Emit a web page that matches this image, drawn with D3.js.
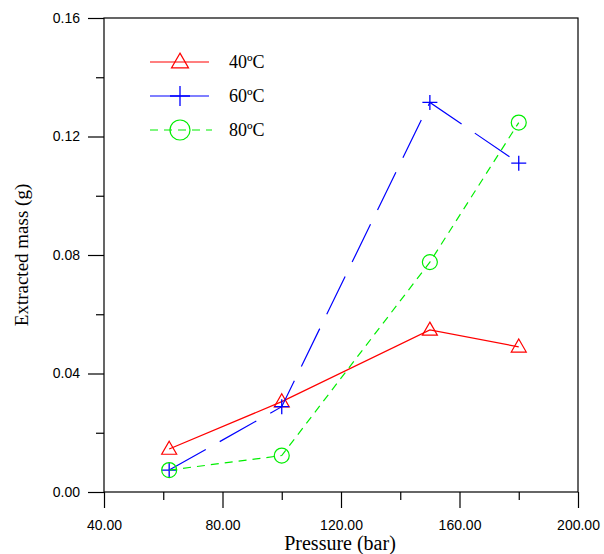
<!DOCTYPE html>
<html><head><meta charset="utf-8">
<script src="https://cdn.jsdelivr.net/npm/d3@7"></script>
<style>body{margin:0;background:#fff}</style>
</head><body>
<svg id="c" width="604" height="554"></svg>
<script>
const pressure = [62, 100, 150, 180];
const mass40 = [0.0145, 0.0305, 0.0547, 0.049];
const mass60 = [0.0074, 0.0288, 0.1315, 0.111];
const mass80 = [0.0074, 0.0123, 0.0776, 0.1247];
const seriesNames = ["40ºC", "60ºC", "80ºC"];
const xTicks = [40, 80, 120, 160, 200];
const yTicks = [0, 0.04, 0.08, 0.12, 0.16];

const svg = d3.select("#c");
const L = 104, R = 578, T = 18, B = 492;
const x = d3.scaleLinear().domain([40, 200]).range([L, R]);
const y = d3.scaleLinear().domain([0, 0.16]).range([B, T]);

// frame
svg.append("rect").attr("x", L).attr("y", T).attr("width", R - L).attr("height", B - T)
  .attr("fill", "none").attr("stroke", "#000").attr("stroke-width", 1.2);

// x axis
const xAx = svg.append("g").attr("transform", `translate(0,${B})`)
  .call(d3.axisBottom(x).tickValues(xTicks).tickSize(16).tickFormat(d3.format(".2f")));
xAx.select(".domain").remove();
xAx.selectAll("text").attr("font-family", "Liberation Sans, Arial, sans-serif").attr("font-size", 14)
  .attr("y", 38).attr("dy", null).attr("fill", "#000");
svg.append("g").attr("transform", `translate(0,${B})`)
  .call(d3.axisBottom(x).tickValues(d3.range(60, 200, 40)).tickSize(8).tickFormat(""))
  .select(".domain").remove();

// y axis
const yAx = svg.append("g").attr("transform", `translate(${L},0)`)
  .call(d3.axisLeft(y).tickValues(yTicks).tickSize(16).tickFormat(d3.format(".2f")));
yAx.select(".domain").remove();
yAx.selectAll("text").attr("font-family", "Liberation Sans, Arial, sans-serif").attr("font-size", 14).attr("x", -24).attr("fill", "#000");
svg.append("g").attr("transform", `translate(${L},0)`)
  .call(d3.axisLeft(y).tickValues(d3.range(0.02, 0.16, 0.04)).tickSize(8).tickFormat(""))
  .select(".domain").remove();
svg.selectAll(".tick line").attr("stroke", "#000").attr("stroke-width", 1.2);

// axis titles
svg.append("text").attr("x", 340).attr("y", 550).attr("text-anchor", "middle")
  .attr("font-family", "Liberation Serif, Times New Roman, serif").attr("font-size", 20).text("Pressure (bar)");
svg.append("text").attr("transform", `translate(28,${(T + B) / 2}) rotate(-90)`).attr("text-anchor", "middle")
  .attr("font-family", "Liberation Serif, Times New Roman, serif").attr("font-size", 19).text("Extracted mass (g)");

const series = [
  {name: seriesNames[0], vals: mass40, color: "#ff0000", dash: null, sym: "tri"},
  {name: seriesNames[1], vals: mass60, color: "#0000ff", dash: "42,16", sym: "plus"},
  {name: seriesNames[2], vals: mass80, color: "#00ee00", dash: "8,6", sym: "circ"}
];

function drawSym(g, sym, cx, cy, s, color) {
  if (sym === "tri") {
    const h = s * 0.87;
    g.append("path").attr("d", `M${cx},${cy - h * 0.6}L${cx + s / 2},${cy + h * 0.4}L${cx - s / 2},${cy + h * 0.4}Z`)
      .attr("fill", "none").attr("stroke", color).attr("stroke-width", 1.2);
  } else if (sym === "plus") {
    g.append("path").attr("d", `M${cx - s / 2},${cy}H${cx + s / 2}M${cx},${cy - s / 2}V${cy + s / 2}`)
      .attr("stroke", color).attr("stroke-width", 1.3);
  } else {
    g.append("circle").attr("cx", cx).attr("cy", cy).attr("r", s / 2)
      .attr("fill", "none").attr("stroke", color).attr("stroke-width", 1.2);
  }
}

const line = d3.line().x((d, i) => x(pressure[i])).y(d => y(d));
series.forEach(s => {
  svg.append("path").attr("d", line(s.vals)).attr("fill", "none").attr("stroke", s.color)
    .attr("stroke-width", 1.2).attr("stroke-dasharray", s.dash);
  const g = svg.append("g");
  s.vals.forEach((v, i) => drawSym(g, s.sym, x(pressure[i]), y(v), 15, s.color));
});

// legend
const legY = [62, 96, 130];
series.forEach((s, i) => {
  const yy = legY[i];
  svg.append("line").attr("x1", 150).attr("x2", s.sym === "circ" ? 212 : 209).attr("y1", yy).attr("y2", yy)
    .attr("stroke", s.color).attr("stroke-width", 1.2).attr("stroke-dasharray", s.sym === "circ" ? "8,6" : null);
  drawSym(svg, s.sym, 180, yy, s.sym === "tri" ? 17 : 20, s.color);
  svg.append("text").attr("x", 229).attr("y", yy + 6)
    .attr("font-family", "Liberation Serif, Times New Roman, serif").attr("font-size", 18).text(s.name);
});
</script>
</body></html>
